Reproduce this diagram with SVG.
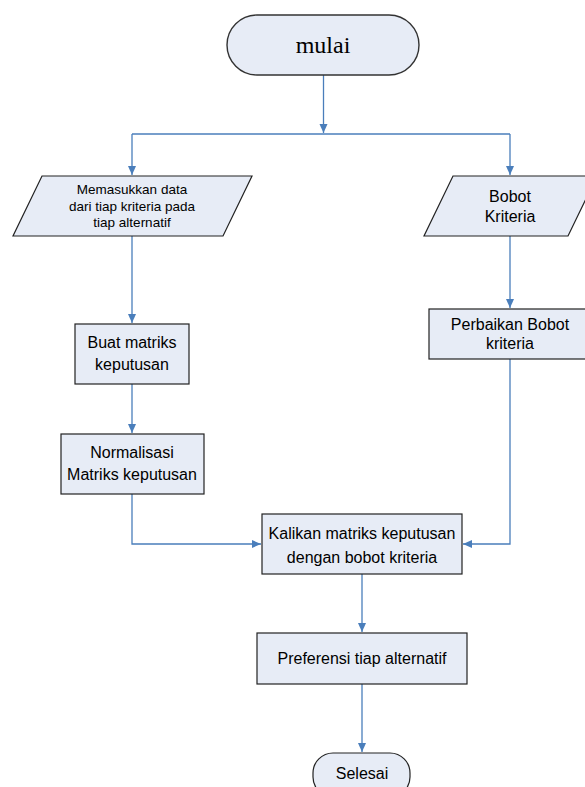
<svg xmlns="http://www.w3.org/2000/svg" width="585" height="787" viewBox="0 0 585 787">
<defs>
<marker id="arr" markerUnits="userSpaceOnUse" markerWidth="10" markerHeight="10" refX="9" refY="4" orient="auto">
<path d="M0,0 L9,4 L0,8 Z" fill="#4a7ebb"/>
</marker>
<style>
.n{fill:#e7ecf6;stroke:#222;stroke-width:1.2}
.t{fill:#000;font-family:"Liberation Sans",Arial,sans-serif;font-size:16px;text-anchor:middle}
.s{font-size:13.5px}
.c{fill:none;stroke:#4a7ebb;stroke-width:1.3}
</style>
</defs>
<rect width="585" height="787" fill="#fff"/>
<g id="connectors">
<path class="c" d="M323.5,75 V133" marker-end="url(#arr)"/>
<path class="c" d="M132,134 H510"/>
<path class="c" d="M132,134 V175" marker-end="url(#arr)"/>
<path class="c" d="M510,134 V175" marker-end="url(#arr)"/>
<path class="c" d="M132,236 V323" marker-end="url(#arr)"/>
<path class="c" d="M132,384 V433" marker-end="url(#arr)"/>
<path class="c" d="M132,494 V544 H261" marker-end="url(#arr)"/>
<path class="c" d="M510,236 V308" marker-end="url(#arr)"/>
<path class="c" d="M510,359 V544 H463" marker-end="url(#arr)"/>
<path class="c" d="M362,574 V632" marker-end="url(#arr)"/>
<path class="c" d="M362,684 V752" marker-end="url(#arr)"/>
</g>
<g id="mulai">
<rect class="n" x="227" y="15" width="192" height="60" rx="30" ry="30" style="stroke:#333;stroke-width:1.4"/>
<text x="323" y="53" style="font-family:'Liberation Serif','Times New Roman',serif;font-size:24px;text-anchor:middle">mulai</text>
</g>
<g id="input-data">
<polygon class="n" points="42,176 252,176 223,236 13,236"/>
<text class="t s" x="132" y="194">Memasukkan data</text>
<text class="t s" x="132" y="210.5">dari tiap kriteria pada</text>
<text class="t s" x="132" y="227">tiap alternatif</text>
</g>
<g id="bobot-kriteria">
<polygon class="n" points="453,176 597,176 568,236 424,236"/>
<text class="t" x="510" y="202">Bobot</text>
<text class="t" x="510" y="222">Kriteria</text>
</g>
<g id="buat-matriks">
<rect class="n" x="75" y="324" width="114" height="60"/>
<text class="t" x="132" y="348">Buat matriks</text>
<text class="t" x="132" y="370">keputusan</text>
</g>
<g id="perbaikan-bobot">
<rect class="n" x="429" y="309" width="162" height="50"/>
<text class="t" x="510" y="330">Perbaikan Bobot</text>
<text class="t" x="510" y="349">kriteria</text>
</g>
<g id="normalisasi">
<rect class="n" x="61" y="434" width="143" height="60"/>
<text class="t" x="132" y="458">Normalisasi</text>
<text class="t" x="132" y="480">Matriks keputusan</text>
</g>
<g id="kalikan">
<rect class="n" x="262" y="514" width="200" height="60"/>
<text class="t" x="362" y="539">Kalikan matriks keputusan</text>
<text class="t" x="362" y="563">dengan bobot kriteria</text>
</g>
<g id="preferensi">
<rect class="n" x="257" y="633" width="210" height="51"/>
<text class="t" x="362" y="664">Preferensi tiap alternatif</text>
</g>
<g id="selesai">
<rect class="n" x="313" y="753" width="97" height="44" rx="20" ry="20"/>
<text class="t" x="362" y="779">Selesai</text>
</g>
</svg>
